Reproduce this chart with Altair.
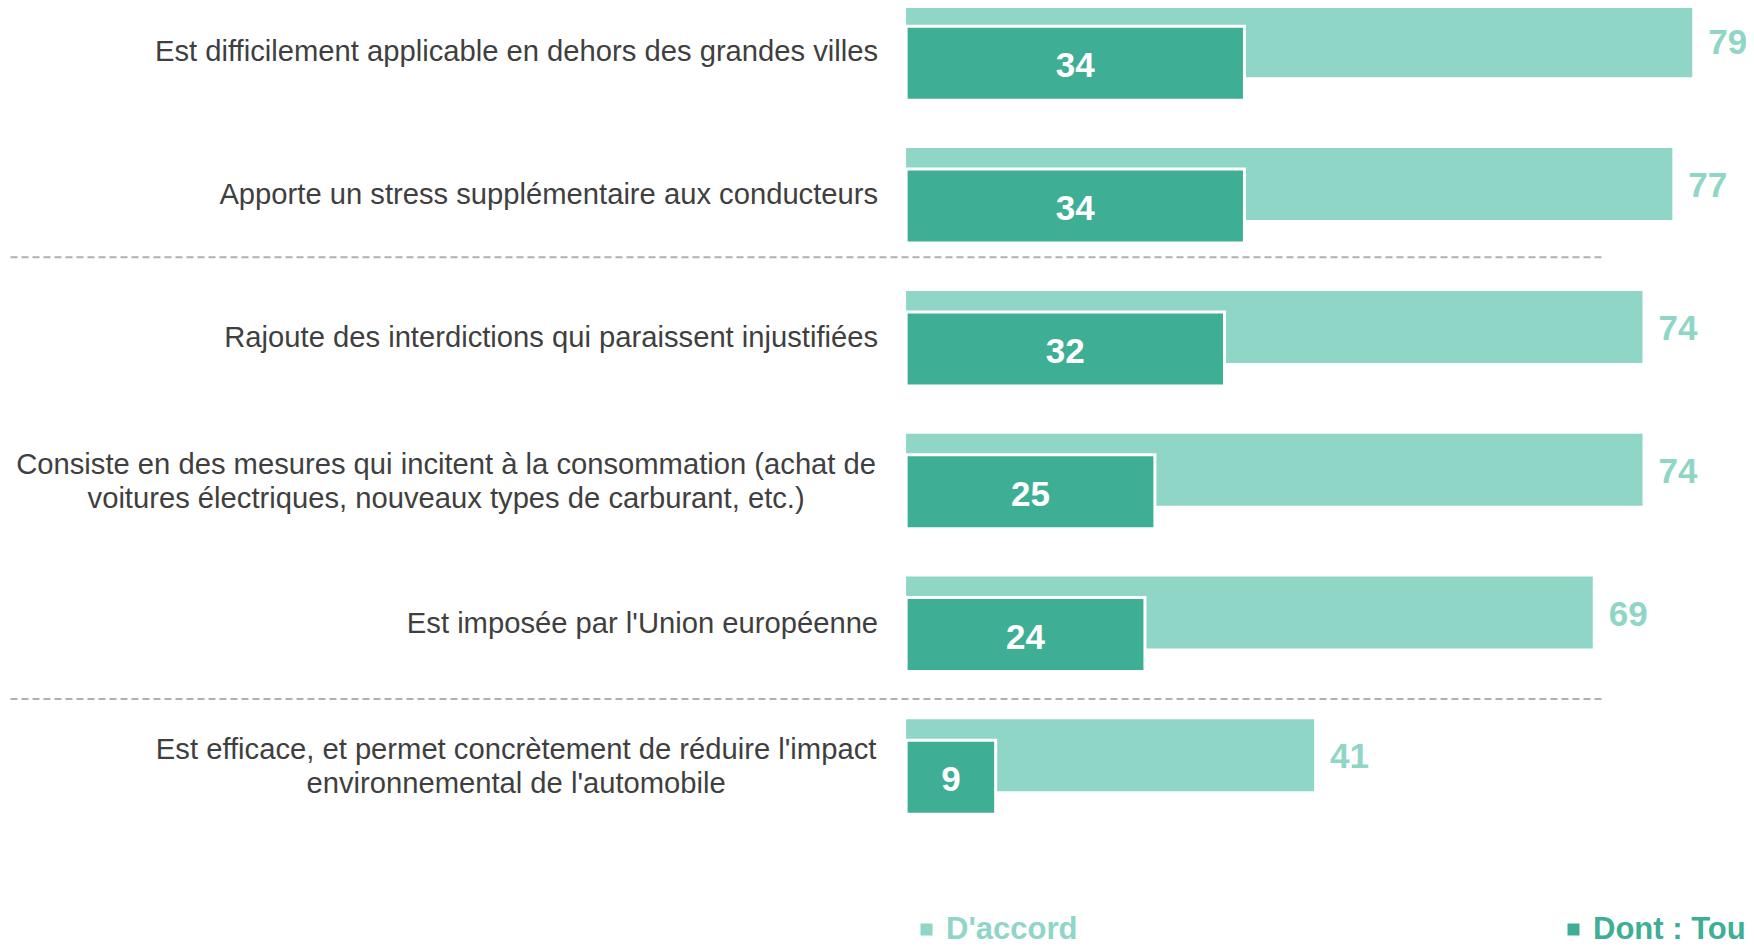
import altair as alt
import pandas as pd

# ---------------- data ----------------
categories = [
    "Est difficilement applicable en dehors des grandes villes",
    "Apporte un stress supplémentaire aux conducteurs",
    "Rajoute des interdictions qui paraissent injustifiées",
    "Consiste en des mesures qui incitent à la consommation (achat de\nvoitures électriques, nouveaux types de carburant, etc.)",
    "Est imposée par l'Union européenne",
    "Est efficace, et permet concrètement de réduire l'impact\nenvironnemental de l'automobile",
]
d_accord = [79, 77, 74, 74, 69, 41]
tout_a_fait = [34, 34, 32, 25, 24, 9]
series = ["D'accord", "Dont : Tout à fait d'accord"]
# separator lines: bottom of row 2, top of row 6
separator_rows = [categories[1], categories[5]]

# ---------------- styles ----------------
LIGHT = "#8fd6c7"
DARK = "#3eae95"
TEXT = "#3f3f3f"
FONT = "Liberation Sans"
LABEL_SIZE = 29.2

rows = []
for c, a, t in zip(categories, d_accord, tout_a_fait):
    rows.append({"cat": c, "series": series[0], "value": a})
    rows.append({"cat": c, "series": series[1], "value": t})
df = pd.DataFrame(rows)
cat_df = pd.DataFrame({"cat": categories})
sep_df = pd.DataFrame({"cat": separator_rows})

xscale = alt.Scale(domain=[-90.25, 84.4], nice=False, zero=False)
yscale = alt.Scale(domain=categories, range=[-27.1, 829.7], paddingInner=0, paddingOuter=0)

X = lambda f: alt.X(f, scale=xscale, axis=None)
Y = alt.Y("cat:N", sort=categories, scale=yscale, axis=None)


def legend_color(name, col, lx):
    return alt.Color(
        "series:N",
        scale=alt.Scale(domain=[name], range=[col]),
        legend=alt.Legend(
            title=None, orient="none", legendX=lx, legendY=906,
            symbolType="square", symbolSize=144,
            symbolStrokeWidth=0, symbolOpacity=1,
            labelFont=FONT, labelFontSize=31, labelFontWeight="bold",
            labelColor=col, labelOffset=4, labelLimit=1000, padding=0,
        ),
    )


base = alt.Chart(df)

light_bars = base.transform_filter(alt.datum.series == series[0]).mark_bar(
    size=72, yOffset=-11
).encode(x=X("value:Q"), y=Y, color=legend_color(series[0], LIGHT, 903))

dark_bars = base.transform_filter(alt.datum.series == series[1]).mark_bar(
    size=74, yOffset=11, stroke="white", strokeWidth=3
).encode(x=X("value:Q"), y=Y, color=legend_color(series[1], DARK, 1550))

light_text = base.transform_filter(alt.datum.series == series[0]).mark_text(
    align="left", baseline="middle", dx=16, yOffset=-9, font=FONT,
    fontSize=35, fontWeight="bold", color=LIGHT
).encode(x=X("value:Q"), y=Y, text="value:Q")

dark_text = base.transform_filter(alt.datum.series == series[1]).transform_calculate(
    half="datum.value / 2"
).mark_text(
    align="center", baseline="middle", yOffset=14, font=FONT,
    fontSize=35, fontWeight="bold", color="white"
).encode(x=X("half:Q"), y=Y, text="value:Q")

single = [c for c in categories if "\n" not in c]
cat_labels = alt.Chart(cat_df).transform_filter(
    alt.FieldOneOfPredicate(field="cat", oneOf=single)
).transform_calculate(zero="0").mark_text(
    align="right", baseline="middle", dx=-28, font=FONT, fontSize=LABEL_SIZE, color=TEXT
).encode(x=X("zero:Q"), y=Y, text="cat:N")

wrapped_layers = []
for c, dx in [(categories[3], -460), (categories[5], -390)]:
    wrapped_layers.append(
        alt.Chart(cat_df).transform_filter(alt.datum.cat == c).transform_calculate(
            lines="split(datum.cat, '\\n')", zero="0"
        ).mark_text(
            align="center", baseline="middle", dx=dx, dy=-16, font=FONT,
            fontSize=LABEL_SIZE, lineHeight=34, color=TEXT
        ).encode(x=X("zero:Q"), y=Y, text="lines:N")
    )

sep_layers = []
for c, bp in zip(separator_rows, [0.936, 0.029]):
    sep_layers.append(
        alt.Chart(sep_df).transform_filter(alt.datum.cat == c).transform_calculate(
            x0="-90", x1="70"
        ).mark_rule(strokeDash=[7, 4], color="#b0b0b0", strokeWidth=2).encode(
            y=alt.Y("cat:N", sort=categories, scale=yscale, axis=None, bandPosition=bp),
            x=X("x0:Q"), x2="x1:Q",
        )
    )

chart = alt.layer(
    *sep_layers, light_bars, dark_bars, light_text, dark_text, cat_labels, *wrapped_layers
).resolve_scale(color="independent").properties(
    width=1738, height=934, autosize=alt.AutoSizeParams(type="none"), padding=0
).configure_view(stroke=None)

chart.save("out.html", embed_options={"renderer": "svg", "actions": False})
